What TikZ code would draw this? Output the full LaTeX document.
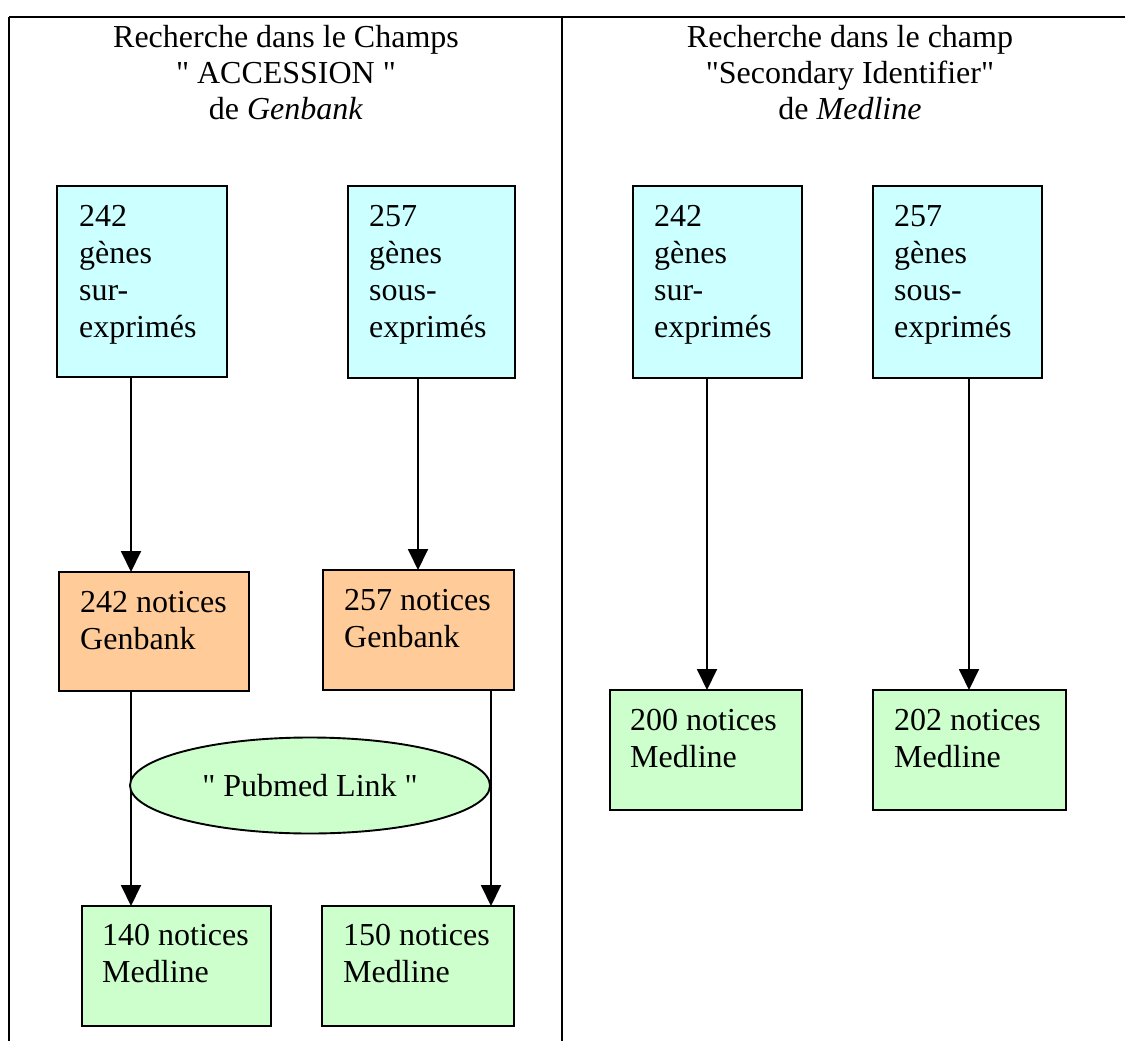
\documentclass[tikz,border=0pt]{standalone}
\usepackage{fontspec}
\setmainfont{Liberation Serif}[Ligatures=TeXOff]
\usetikzlibrary{arrows.meta,shapes.geometric}
\definecolor{cyanfill}{HTML}{CCFFFF}
\definecolor{orangefill}{HTML}{FFCC99}
\definecolor{greenfill}{HTML}{CCFFCC}
\tikzset{
  boxbase/.style={draw=black, line width=1.9pt, rectangle, inner sep=0pt, outer sep=0pt},
  cbox/.style={boxbase, fill=cyanfill},
  obox/.style={boxbase, fill=orangefill},
  gbox/.style={boxbase, fill=greenfill},
  boxtext/.style={anchor=base west, align=left, inner sep=0pt, font=\fontsize{32}{37}\selectfont},
  titletext/.style={anchor=base, align=center, inner sep=0pt, font=\fontsize{32}{36.5}\selectfont},
  arr/.style={line width=1.9pt, -{Triangle[length=21pt, width=20pt]}},
  frame/.style={line width=2.8pt}
}
\begin{document}
\begin{tikzpicture}[x=1pt, y=-1pt]
\useasboundingbox (0,0) rectangle (1125,1041);
% frame
\coordinate (tl) at (9,17);
\coordinate (tr) at (1125,17);
\coordinate (bl) at (9,1041);
\coordinate (tm) at (562,17);
\coordinate (bm) at (562,1041);
\draw[frame] (tr) -- (tl);
\draw[line width=1.9pt] (tl) -- (bl);
\draw[line width=1.9pt] (tm) -- (bm);
% titles (anchor = baseline of last line)
\node[titletext] (T1) at (286,120) {Recherche dans le Champs\\" ACCESSION "\\de \textit{Genbank}};
\node[titletext] (T2) at (850,120) {Recherche dans le champ\\"Secondary Identifier"\\de \textit{Medline}};
% boxes
\node[cbox, minimum width=170, minimum height=191] (A1) at (142,281.5) {};
\node[cbox, minimum width=167, minimum height=192] (A2) at (431.5,282) {};
\node[cbox, minimum width=169, minimum height=192] (B1) at (717.5,282) {};
\node[cbox, minimum width=169, minimum height=192] (B2) at (957.5,282) {};
\node[obox, minimum width=190, minimum height=119] (O1) at (154,631.5) {};
\node[obox, minimum width=191, minimum height=120] (O2) at (418.5,630) {};
\node[gbox, minimum width=189, minimum height=120] (G1) at (176.5,966) {};
\node[gbox, minimum width=192, minimum height=120] (G2) at (418,966) {};
\node[gbox, minimum width=192, minimum height=120] (G3) at (706,750) {};
\node[gbox, minimum width=193, minimum height=120] (G4) at (969.5,750) {};
% box texts (anchor = baseline of last line)
\node[boxtext] (tA1) at (79,337) {242\\gènes\\sur-\\exprimés};
\node[boxtext] (tA2) at (369,337) {257\\gènes\\sous-\\exprimés};
\node[boxtext] (tB1) at (654,337) {242\\gènes\\sur-\\exprimés};
\node[boxtext] (tB2) at (894,337) {257\\gènes\\sous-\\exprimés};
\node[boxtext] (tO1) at (80,649) {242 notices\\Genbank};
\node[boxtext] (tO2) at (344,647) {257 notices\\Genbank};
\node[boxtext] (tG1) at (102,982) {140 notices\\Medline};
\node[boxtext] (tG2) at (343,982) {150 notices\\Medline};
\node[boxtext] (tG3) at (630,767) {200 notices\\Medline};
\node[boxtext] (tG4) at (894,767) {202 notices\\Medline};
% arrow x positions
\coordinate (xa) at (131,0);
\coordinate (xb) at (418,0);
\coordinate (xc) at (491,0);
\coordinate (xd) at (707,0);
\coordinate (xe) at (969,0);
\draw[arr] (A1.south -| xa) -- (O1.north -| xa);
\draw[arr] (A2.south -| xb) -- (O2.north -| xb);
\draw[arr] (O1.south -| xa) -- (G1.north -| xa);
\draw[arr] (O2.south -| xc) -- (G2.north -| xc);
\draw[arr] (B1.south -| xd) -- (G3.north -| xd);
\draw[arr] (B2.south -| xe) -- (G4.north -| xe);
% ellipse
\node[ellipse, draw=black, line width=1.9pt, fill=greenfill, minimum width=360, minimum height=96, inner sep=0pt, font=\fontsize{32}{37}\selectfont] (E) at (310,785.5) {" Pubmed Link "};
\end{tikzpicture}
\end{document}
